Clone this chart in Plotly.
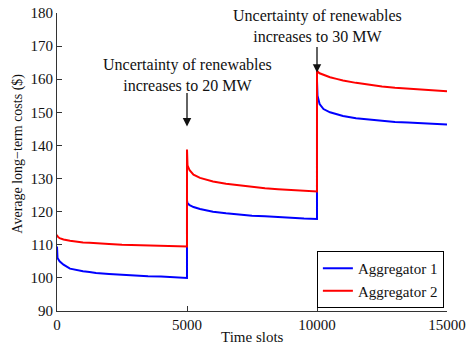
import plotly.graph_objects as go

# Data
time_slots = [0, 20, 100, 250, 500, 750, 1000, 1250, 1500, 2000, 2500, 3000, 3500, 4000, 4500, 4999,
              5000, 5020, 5100, 5250, 5500, 5750, 6000, 6500, 7000, 7500, 8000, 8500, 9000, 9500, 9999,
              10000, 10020, 10100, 10250, 10500, 10750, 11000, 11500, 12000, 12500, 13000, 13500, 14000, 14500, 15000]

aggregator1 = [109.5, 106.0, 105.0, 104.0, 102.8, 102.3, 102.0, 101.8, 101.5, 101.2, 100.9, 100.7, 100.5, 100.4, 100.1, 100.0,
               123.4, 122.5, 122.0, 121.4, 120.8, 120.4, 120.0, 119.5, 119.1, 118.8, 118.6, 118.3, 118.1, 117.9, 117.8,
               159.5, 155.0, 152.5, 151.0, 150.0, 149.4, 148.9, 148.2, 147.8, 147.4, 147.1, 146.9, 146.7, 146.5, 146.3]

aggregator2 = [113.0, 112.5, 112.0, 111.6, 111.2, 110.9, 110.7, 110.6, 110.4, 110.2, 110.0, 109.9, 109.8, 109.7, 109.6, 109.5,
               138.8, 134.0, 132.5, 131.2, 130.2, 129.6, 129.1, 128.4, 127.9, 127.5, 127.1, 126.8, 126.5, 126.3, 126.1,
               162.8, 162.3, 161.8, 161.3, 160.6, 160.1, 159.6, 158.9, 158.3, 157.8, 157.4, 157.1, 156.8, 156.6, 156.4]

x_ticks = [0, 5000, 10000, 15000]
y_ticks = [90, 100, 110, 120, 130, 140, 150, 160, 170, 180]

FONT = "Liberation Serif"
FS = 16

fig = go.Figure()
fig.add_trace(go.Scatter(x=time_slots, y=aggregator1, mode="lines", name="Aggregator 1",
                         line=dict(color="#0000ff", width=2)))
fig.add_trace(go.Scatter(x=time_slots, y=aggregator2, mode="lines", name="Aggregator 2",
                         line=dict(color="#ff0000", width=2)))

# text annotations
fig.add_annotation(x=5000, y=161.2, text="Uncertainty of renewables<br>increases to 20 MW",
                   showarrow=False, xanchor="center", yanchor="middle", align="center",
                   font=dict(family=FONT, size=FS, color="#111"))
fig.add_annotation(x=10000, y=176.1, text="Uncertainty of renewables<br>increases to 30 MW",
                   showarrow=False, xanchor="center", yanchor="middle", align="center",
                   font=dict(family=FONT, size=FS, color="#111"))

# arrows
fig.add_annotation(x=5000, y=145.7, ax=0, ay=-35, text="", showarrow=True,
                   arrowhead=2, arrowsize=1.3, arrowwidth=1.3, arrowcolor="#111")
fig.add_annotation(x=10000, y=162.0, ax=0, ay=-27, text="", showarrow=True,
                   arrowhead=2, arrowsize=1.3, arrowwidth=1.3, arrowcolor="#111")

# axis titles
fig.add_annotation(xref="paper", yref="paper", x=0.5, y=0, yshift=-26, text="Time slots",
                   showarrow=False, xanchor="center", yanchor="middle",
                   font=dict(family=FONT, size=15, color="#111"))
fig.add_annotation(xref="paper", yref="paper", x=0, xshift=-39, y=0.528, text="Average long−term costs ($)",
                   showarrow=False, textangle=-90, xanchor="center", yanchor="middle",
                   font=dict(family=FONT, size=14, color="#111"))

fig.update_layout(
    width=466, height=347,
    margin=dict(l=57, r=19, t=13, b=36, autoexpand=False),
    paper_bgcolor="white", plot_bgcolor="white",
    font=dict(family=FONT, size=15, color="#111"),
    showlegend=True,
    legend=dict(x=0.992, y=0.01, xanchor="right", yanchor="bottom",
                bgcolor="white", bordercolor="#000", borderwidth=1,
                font=dict(family=FONT, size=15), tracegroupgap=0,
                itemwidth=30),
    xaxis=dict(range=[0, 15000], tickvals=x_ticks, ticktext=[str(v) for v in x_ticks],
               showgrid=False, zeroline=False, showline=True, linecolor="#333", linewidth=1,
               ticks="inside", ticklen=5, tickcolor="#333", automargin=False,
               ticklabeloverflow="allow", tickfont=dict(family=FONT, size=15)),
    yaxis=dict(range=[90, 180], tickvals=y_ticks, ticktext=[str(v) for v in y_ticks],
               showgrid=False, zeroline=False, showline=True, linecolor="#333", linewidth=1,
               ticks="inside", ticklen=5, tickcolor="#333", automargin=False,
               ticklabeloverflow="allow", tickfont=dict(family=FONT, size=15)),
)

fig.write_html("out.html")
